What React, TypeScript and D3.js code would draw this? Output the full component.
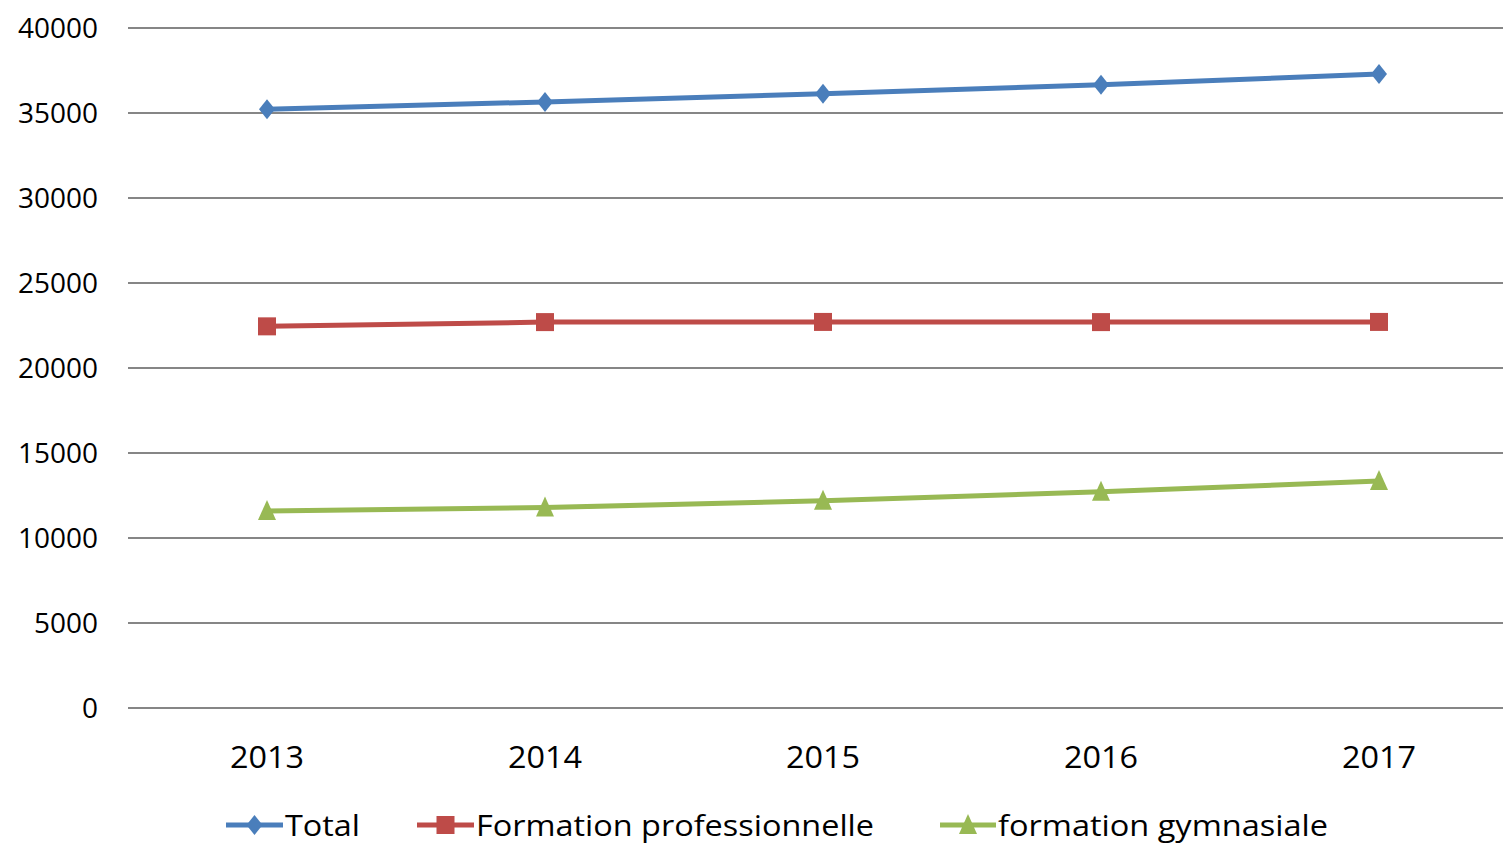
import React from "react";
import * as d3 from "d3";

const years = ["2013", "2014", "2015", "2016", "2017"];
const total = [35220, 35650, 36130, 36660, 37290];
const professionnelle = [22450, 22700, 22710, 22700, 22710];
const gymnasiale = [11590, 11790, 12190, 12720, 13350];
const yTicks = [0, 5000, 10000, 15000, 20000, 25000, 30000, 35000, 40000];

const seriesNames = ["Total", "Formation professionnelle", "formation gymnasiale"];
const seriesColors = ["#4A7EBB", "#BE4B48", "#98B954"];
const seriesData = [total, professionnelle, gymnasiale];
const symbols = ["diamond", "square", "triangle"];

const W = 1503;
const H = 844;
const left = 128;
const top = 28;
const bottom = 708;
const FONT = "Open Sans, 'Noto Sans', sans-serif";

function Marker({ type, x, y, color }: { type: string; x: number; y: number; color: string }) {
  if (type === "diamond") {
    const p = `${x},${y - 10} ${x + 8},${y} ${x},${y + 10} ${x - 8},${y}`;
    return <polygon points={p} fill={color} />;
  }
  if (type === "square") {
    return <rect x={x - 9} y={y - 9} width={18} height={18} fill={color} />;
  }
  const p = `${x},${y - 11} ${x + 9},${y + 9} ${x - 9},${y + 9}`;
  return <polygon points={p} fill={color} />;
}

export default function App() {
  const x = d3.scaleBand<string>().domain(years).range([left, left + 5 * 278]);
  const y = d3.scaleLinear().domain([0, 40000]).range([bottom, top]);
  const cx = (d: string) => (x(d) as number) + x.bandwidth() / 2;
  const line = d3
    .line<number>()
    .x((_, i) => cx(years[i]))
    .y((v) => y(v));

  const legend = [
    { lx: 226, tx: 285, tl: 75 },
    { lx: 417, tx: 476, tl: 398 },
    { lx: 940, tx: 998, tl: 330 },
  ];

  return (
    <svg
      width={W}
      height={H}
      style={{ position: "absolute", left: 0, top: 0, background: "#fff" }}
      fontFamily={FONT}
    >
      {yTicks.map((t) => (
        <g key={t}>
          <line x1={left} x2={W} y1={y(t)} y2={y(t)} stroke="#868686" strokeWidth={2} />
          <text
            x={98}
            y={y(t)}
            dy="0.35em"
            textAnchor="end"
            fontSize={28}
            fill="#000"
            textLength={String(t).length * 16}
            lengthAdjust="spacingAndGlyphs"
          >
            {t}
          </text>
        </g>
      ))}
      {years.map((yr) => (
        <text
          key={yr}
          x={cx(yr)}
          y={757}
          dy="0.35em"
          textAnchor="middle"
          fontSize={31}
          fill="#000"
          textLength={74}
          lengthAdjust="spacingAndGlyphs"
        >
          {yr}
        </text>
      ))}
      {seriesData.map((s, si) => (
        <g key={si}>
          <path d={line(s) || ""} fill="none" stroke={seriesColors[si]} strokeWidth={5} strokeLinejoin="round" />
          {s.map((v, i) => (
            <Marker key={i} type={symbols[si]} x={cx(years[i])} y={y(v)} color={seriesColors[si]} />
          ))}
        </g>
      ))}
      {legend.map((l, i) => (
        <g key={i}>
          <line x1={l.lx} x2={l.tx - 2} y1={825} y2={825} stroke={seriesColors[i]} strokeWidth={5} />
          <Marker type={symbols[i]} x={(l.lx + l.tx - 2) / 2} y={825} color={seriesColors[i]} />
          <text
            x={l.tx}
            y={825}
            dy="0.35em"
            fontSize={30}
            fill="#000"
            textLength={l.tl}
            lengthAdjust="spacingAndGlyphs"
          >
            {seriesNames[i]}
          </text>
        </g>
      ))}
    </svg>
  );
}
